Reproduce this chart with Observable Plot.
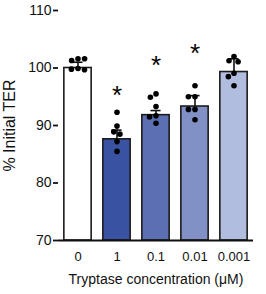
<!DOCTYPE html>
<html><head><meta charset="utf-8">
<script src="https://cdn.jsdelivr.net/npm/d3@7"></script>
<script src="https://cdn.jsdelivr.net/npm/@observablehq/plot@0.6"></script>
<style>
body{margin:0;background:#fff}
svg g[aria-label="y-axis label"]{font-size:16px}
svg g[aria-label="fx-axis tick label"]{font-size:13px}
</style>
</head><body><div id="chart"></div>
<script>
const categories = ["0", "1", "0.1", "0.01", "0.001"];
const means = [100.0, 87.6, 91.8, 93.3, 99.3];
const sems = [1.0, 1.6, 0.8, 1.9, 2.3];
const colors = ["#ffffff", "#3a52a2", "#5b6fb2", "#8191c6", "#b0bddf"];
const stars = [null, 96.6, 101.8, 103.8, null];
const points0 = [101.6, 101.3, 101.6, 99.9, 99.8, 99.7];
const points1 = [92.3, 89.9, 88.9, 88.5, 87.2, 85.5];
const points2 = [95.5, 94.9, 93.3, 91.7, 91.5, 90.4];
const points3 = [96.9, 95.0, 95.0, 92.8, 92.8, 91.0];
const points4 = [102.0, 101.25, 101.1, 99.1, 98.5, 96.9];
const yTicks = [70, 80, 90, 100, 110];

const rows = categories.map((cat, i) => ({cat, mean: means[i], sem: sems[i], color: colors[i], star: stars[i]}));
const pointLists = [points0, points1, points2, points3, points4];
const pts = pointLists.flatMap((list, i) => list.map(v => ({cat: categories[i], value: v})));

const chart = Plot.plot({
  width: 266,
  height: 294,
  marginLeft: 58,
  marginRight: 13,
  marginTop: 10,
  marginBottom: 54,
  style: {fontSize: "14px", fontFamily: "'Liberation Sans', Arial, sans-serif", color: "#111", background: "#fff"},
  fx: {domain: categories, padding: 0, label: "Tryptase concentration (μM)", labelAnchor: "center", tickSize: 0, tickPadding: 11, labelOffset: 43},
  x: {domain: [-1, 1], axis: null},
  y: {domain: [70, 110], axis: null},
  color: {type: "identity"},
  marks: [
    Plot.rectY(rows, {fx: "cat", x1: -0.7, x2: 0.7, y1: 70, y2: "mean", fill: "color", stroke: "#1c1c1c", strokeWidth: 1.6}),
    Plot.ruleX(rows, {fx: "cat", x: 0, y1: "mean", y2: d => d.mean + d.sem, stroke: "#111", strokeWidth: 1.6}),
    Plot.ruleY(rows, {fx: "cat", y: d => d.mean + d.sem, x1: -0.26, x2: 0.26, stroke: "#111", strokeWidth: 1.6}),
    Plot.dot(pts, Plot.dodgeX("middle", {fx: "cat", y: "value", r: 2.8, fill: "#000", stroke: "none", padding: 0.8})),
    Plot.text(rows.filter(d => d.star != null), {fx: "cat", x: 0, y: "star", text: () => "*", fontSize: 26, dy: 8, fill: "#000"}),
    Plot.ruleY([70], {stroke: "#111", strokeWidth: 2}),
    Plot.axisY({ticks: yTicks, tickSize: 5, tickPadding: 2, line: true, strokeWidth: 1.8, stroke: "#111", label: "% Initial TER", labelArrow: "none", labelAnchor: "center", labelOffset: 55})
  ]
});
document.getElementById("chart").append(chart);
</script>
</body></html>
